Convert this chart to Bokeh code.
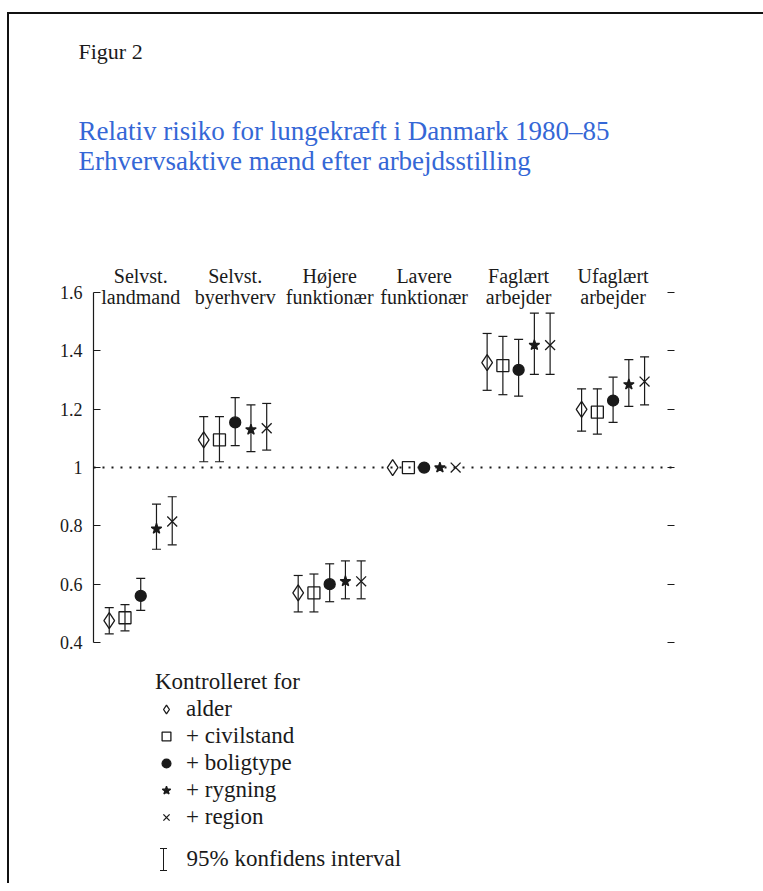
from bokeh.plotting import figure
from bokeh.models import (ColumnDataSource, Whisker, TeeHead, Span, LinearAxis, FixedTicker,
                          Range1d, Label, LabelSet, Legend, LegendItem, Title)
from bokeh.embed import file_html
from bokeh.resources import INLINE

# ---------------- data ----------------
groups = ["Selvst.\nlandmand", "Selvst.\nbyerhverv", "Højere\nfunktionær",
          "Lavere\nfunktionær", "Faglært\narbejder", "Ufaglært\narbejder"]
models = ["alder", "+ civilstand", "+ boligtype", "+ rygning", "+ region"]

rr_alder = [0.475, 1.095, 0.57, 1.0, 1.36, 1.20]
lo_alder = [0.43, 1.02, 0.505, None, 1.265, 1.125]
hi_alder = [0.52, 1.175, 0.63, None, 1.46, 1.27]

rr_civil = [0.485, 1.095, 0.57, 1.0, 1.35, 1.19]
lo_civil = [0.44, 1.02, 0.505, None, 1.25, 1.115]
hi_civil = [0.53, 1.175, 0.635, None, 1.45, 1.27]

rr_bolig = [0.56, 1.155, 0.60, 1.0, 1.335, 1.23]
lo_bolig = [0.51, 1.075, 0.54, None, 1.245, 1.155]
hi_bolig = [0.62, 1.24, 0.67, None, 1.44, 1.31]

rr_ryg = [0.79, 1.13, 0.61, 1.0, 1.42, 1.285]
lo_ryg = [0.72, 1.055, 0.55, None, 1.32, 1.21]
hi_ryg = [0.875, 1.215, 0.68, None, 1.53, 1.37]

rr_region = [0.815, 1.135, 0.61, 1.0, 1.42, 1.295]
lo_region = [0.735, 1.06, 0.55, None, 1.32, 1.215]
hi_region = [0.90, 1.22, 0.68, None, 1.53, 1.38]

y_ticks = [0.4, 0.6, 0.8, 1.0, 1.2, 1.4, 1.6]
y_tick_labels = ["0.4", "0.6", "0.8", "1", "1.2", "1.4", "1.6"]
ref_value = 1.0

title_fig = "Figur 2"
title_main = "Relativ risiko for lungekræft i Danmark 1980–85\nErhvervsaktive mænd efter arbejdsstilling"
legend_title = "Kontrolleret for"
ci_label = "95% konfidens interval"

series = [(rr_alder, lo_alder, hi_alder), (rr_civil, lo_civil, hi_civil),
          (rr_bolig, lo_bolig, hi_bolig), (rr_ryg, lo_ryg, hi_ryg),
          (rr_region, lo_region, hi_region)]

# ---------------- styles ----------------
FONT = "Liberation Serif"
INK = "#1a1a1a"
BLUE = "#3567d6"
marker_styles = [
    dict(marker="diamond", size=16, fill_color=None),
    dict(marker="square", size=12, fill_color=None),
    dict(marker="circle", size=11, fill_color=INK),
    dict(marker="star", size=11, fill_color=INK),
    dict(marker="x", size=14, fill_color=None),
]

W, H = 763, 883
p = figure(width=W, height=H,
           x_range=Range1d(-0.5, 5.65), y_range=Range1d(-0.4264, 1.9503),
           x_axis_type=None, y_axis_type=None,
           output_backend="svg", toolbar_location=None,
           min_border_left=93, min_border_right=W - 674,
           min_border_top=189, min_border_bottom=0,
           outline_line_color=None, title_location=None,
           border_fill_color=None, background_fill_color=None)

# reference line at RR = 1
p.add_layout(Span(location=ref_value, dimension="width", line_color=INK,
                  line_width=2, line_dash="2 7"))

n_models = len(models)
renderers = []
for mi, (rr, lo, hi) in enumerate(series):
    xs = [gi + (mi - (n_models - 1) / 2) / 6 for gi in range(len(groups))]
    src = ColumnDataSource(dict(x=xs, y=rr))
    wx = [x for x, l in zip(xs, lo) if l is not None]
    wl = [l for l in lo if l is not None]
    wh = [h for h in hi if h is not None]
    wsrc = ColumnDataSource(dict(x=wx, lower=wl, upper=wh))
    p.add_layout(Whisker(source=wsrc, base="x", lower="lower", upper="upper",
                         dimension="height", line_color=INK, line_width=1.2,
                         upper_head=TeeHead(size=9, line_color=INK, line_width=1.2),
                         lower_head=TeeHead(size=9, line_color=INK, line_width=1.2)))
    st = marker_styles[mi]
    r = p.scatter("x", "y", source=src, marker=st["marker"], size=st["size"],
                  line_color=INK, line_width=1.3, fill_color=st["fill_color"])
    renderers.append(r)

# axes
left = LinearAxis(ticker=FixedTicker(ticks=y_ticks), bounds=(0.4, 1.6),
                  major_label_overrides={t: l for t, l in zip(y_ticks, y_tick_labels)},
                  major_tick_in=7, major_tick_out=0, minor_tick_line_color=None,
                  axis_line_color=INK, axis_line_width=1.2, major_tick_line_color=INK,
                  major_tick_line_width=1.2, major_label_standoff=11,
                  major_label_text_font=FONT, major_label_text_font_size="18px",
                  major_label_text_color=INK)
p.add_layout(left, "left")

right = LinearAxis(ticker=FixedTicker(ticks=y_ticks), bounds=(0.4, 1.6),
                   major_tick_in=7, major_tick_out=0, minor_tick_line_color=None,
                   axis_line_color=None, major_tick_line_color=INK, major_tick_line_width=1.2,
                   major_label_text_color=None)
p.add_layout(right, "right")

# category labels above the groups (one centred label set per text line)
lines = [g.split("\n") for g in groups]
for li, ypos in enumerate([608, 587]):
    src_l = ColumnDataSource(dict(x=list(range(len(groups))), text=[l[li] for l in lines]))
    p.add_layout(LabelSet(source=src_l, x="x", y=ypos, x_units="data", y_units="screen",
                          text="text", text_align="center", text_baseline="middle",
                          text_font=FONT, text_font_size="20px", text_color=INK))

# titles (nearest the frame first)
p.add_layout(Title(text=title_main, text_color=BLUE, text_font=FONT, text_font_size="27px",
                   text_font_style="normal", text_line_height=1.0, align="left",
                   offset=-15, standoff=29), "above")
p.add_layout(Title(text=title_fig, text_color=INK, text_font=FONT, text_font_size="22px",
                   text_font_style="normal", align="left", offset=-15, standoff=72), "above")

# legend
leg = Legend(items=[LegendItem(label=m, renderers=[r]) for m, r in zip(models, renderers)],
             title=legend_title, title_text_font=FONT, title_text_font_size="23px",
             title_text_font_style="normal", title_text_color=INK, title_standoff=1,
             spacing=1, glyph_width=22, glyph_height=26, label_height=26,
             label_standoff=9, location=(62, 53),
             background_fill_alpha=0, border_line_color=None, padding=0, margin=0,
             label_text_font=FONT, label_text_font_size="23px", label_text_color=INK)
p.add_layout(leg, "center")

# key for the confidence interval
key_src = ColumnDataSource(dict(base=[70], lower=[13], upper=[35]))
p.add_layout(Whisker(source=key_src, base="base", lower="lower", upper="upper",
                     base_units="screen", lower_units="screen", upper_units="screen",
                     dimension="height", line_color=INK, line_width=1.0,
                     upper_head=TeeHead(size=7, line_color=INK, line_width=1.0),
                     lower_head=TeeHead(size=7, line_color=INK, line_width=1.0)))
p.add_layout(Label(x=93, y=25, x_units="screen", y_units="screen", text=ci_label,
                   text_font=FONT, text_font_size="23px", text_color=INK,
                   text_baseline="middle", text_align="left"))

# scanned page frame (top and left edges)
p.styles = {"background": "linear-gradient(#111,#111) 8px 12px / 100% 2px no-repeat, "
                          "linear-gradient(#111,#111) 7px 12px / 2px 100% no-repeat"}

open("out.html", "w").write(file_html(p, INLINE))
